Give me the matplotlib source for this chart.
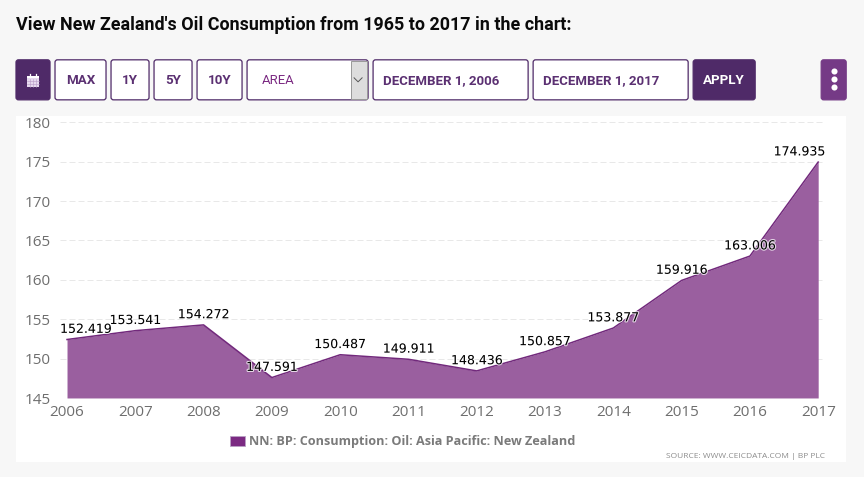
#!/usr/bin/env python3

import matplotlib
matplotlib.use('Agg')
from matplotlib import pyplot as plt
from matplotlib import patheffects
from matplotlib.patches import FancyBboxPatch, Rectangle

years = [2006, 2007, 2008, 2009, 2010, 2011, 2012, 2013, 2014, 2015, 2016, 2017]
values = [152.419, 153.541, 154.272, 147.591, 150.487, 149.911,
          148.436, 150.857, 153.877, 159.916, 163.006, 174.935]
y_ticks = [145, 150, 155, 160, 165, 170, 175, 180]

title = "View New Zealand's Oil Consumption from 1965 to 2017 in the chart:"
legend_label = "NN: BP: Consumption: Oil: Asia Pacific: New Zealand"
source = "SOURCE: WWW.CEICDATA.COM | BP PLC"

W, H = 864, 477
DARK = '#4f2a68'
PURPLE = '#7b2a82'
TEXT = '#5b3072'


def box(ui, x0, y0, x1, y1, face='white', edge=DARK):
    ui.add_patch(FancyBboxPatch((x0 + 2, y0 + 2), x1 - x0 - 4, y1 - y0 - 4,
                                boxstyle='round,pad=2,rounding_size=2.5',
                                fc=face, ec=edge, lw=0.9))


# the small extra keeps the pixel count from rounding down
fig = plt.figure(figsize=((W + 0.2) / 100, (H + 0.2) / 100), dpi=100, facecolor='#f7f7f7')

# page furniture in pixel coordinates
ui = fig.add_axes([0, 0, 1, 1])
ui.set_xlim(0, W)
ui.set_ylim(H, 0)
ui.axis('off')

ui.text(16, 25, title, family='Roboto', weight='bold', fontsize=12.9,
        color='#0a0a0a', va='center')

box(ui, 16, 60, 50, 100, DARK)
# calendar icon
ui.add_patch(Rectangle((26.5, 76), 12, 11, fc='#e6d9ee', ec='none'))
ui.add_patch(Rectangle((26.5, 76), 12, 2.5, fc='white', ec='none'))
for peg_x in [29.5, 35.5]:
    ui.plot([peg_x, peg_x], [74, 77], color='white', lw=0.9)
for gx in [29.5, 32.5, 35.5]:
    ui.plot([gx, gx], [79, 87], color='#b79ac6', lw=0.4)
for gy in [81.5, 84.5]:
    ui.plot([26.5, 38.5], [gy, gy], color='#b79ac6', lw=0.4)

buttons = [(55, 106, 'MAX'), (111, 149, '1Y'), (154, 192, '5Y'), (197, 242, '10Y')]
for x0, x1, label in buttons:
    box(ui, x0, 60, x1, 100)
    ui.text((x0 + x1) / 2, 80.5, label, family='Roboto', weight='bold', fontsize=9.6,
            color=TEXT, ha='center', va='center')

box(ui, 247, 60, 368, 100)
ui.add_patch(Rectangle((350.5, 61), 16.5, 38, fc='#dddddd', ec='#999999', lw=0.7))
ui.plot([354, 358, 362], [78, 82, 78], color='#555555', lw=0.7)
ui.text(262, 80.5, 'AREA', family='Roboto', fontsize=9.4, color=PURPLE, va='center')

box(ui, 373, 60, 528, 100)
ui.text(383, 80.5, 'DECEMBER 1, 2006', family='Roboto', weight='bold', fontsize=9.5,
        color=TEXT, va='center')
box(ui, 533, 60, 688, 100)
ui.text(543, 80.5, 'DECEMBER 1, 2017', family='Roboto', weight='bold', fontsize=9.5,
        color=TEXT, va='center')
box(ui, 693, 60, 755, 100, DARK)
ui.text(724, 80.5, 'APPLY', family='Roboto', weight='bold', fontsize=9.6,
        color='white', ha='center', va='center')

box(ui, 821, 60, 846, 100, '#753a86', '#753a86')
for dot_y in [71.5, 79.5, 87.5]:
    ui.plot(834, dot_y, 'o', color='white', ms=4.4, mew=0)

ui.add_patch(Rectangle((16, 116), 830, 346, fc='white', ec='none'))

ui.add_patch(Rectangle((230, 436), 15, 10, fc=PURPLE, ec='#b9a0c4', lw=0.6))
ui.text(249, 441, legend_label, family='Open Sans', weight='bold', fontsize=9.1,
        color='#7a7a7a', va='center')
ui.text(825, 456, source, family='Open Sans', fontsize=6.0, color='#8c8c8c',
        ha='right', va='center')

# chart, 2006 at x=67 and 2017 at x=818, 180 at y=122.3 and 145 at y=398
ax = fig.add_axes([60 / W, 1 - 398 / H, 765 / W, 275.7 / H])
ax.patch.set_alpha(0)
px_per_year = (818 - 67) / (years[-1] - years[0])
ax.set_xlim(years[0] - 7 / px_per_year, years[-1] + 7 / px_per_year)
ax.set_ylim(145, 180)

ax.fill_between(years, values, 145, color='#9a5f9f', lw=0, zorder=2)
ax.plot(years, values, color='#72297c', lw=1.1, zorder=3)

ax.set_xticks(years)
ax.set_yticks(y_ticks)
ax.tick_params(length=0)
ax.tick_params(axis='x', pad=5)
ax.tick_params(axis='y', pad=7)
for lab in ax.get_xticklabels() + ax.get_yticklabels():
    lab.set_family('Open Sans')
    lab.set_fontsize(11)
    lab.set_color('#6e6e6e')
ax.grid(axis='y', color='#e8e8e8', lw=0.72, ls=(0, (6, 3)), zorder=1)
for side in ax.spines:
    ax.spines[side].set_visible(False)

# first and last labels are kept inside the plot area
halo = [patheffects.withStroke(linewidth=1.6, foreground='white', alpha=0.75)]
for year, val in zip(years, values):
    ha, dx = 'center', 0
    if year == years[0]:
        ha, dx = 'left', -5
    elif year == years[-1]:
        ha, dx = 'right', 5
    ax.annotate('%.3f' % val, (year, val), xytext=(dx, 4.8), textcoords='offset points',
                ha=ha, va='baseline', fontsize=9, color='black', zorder=4,
                family='DejaVu Sans', annotation_clip=False, path_effects=halo)

fig.savefig('out.png', dpi=100, facecolor=fig.get_facecolor())
